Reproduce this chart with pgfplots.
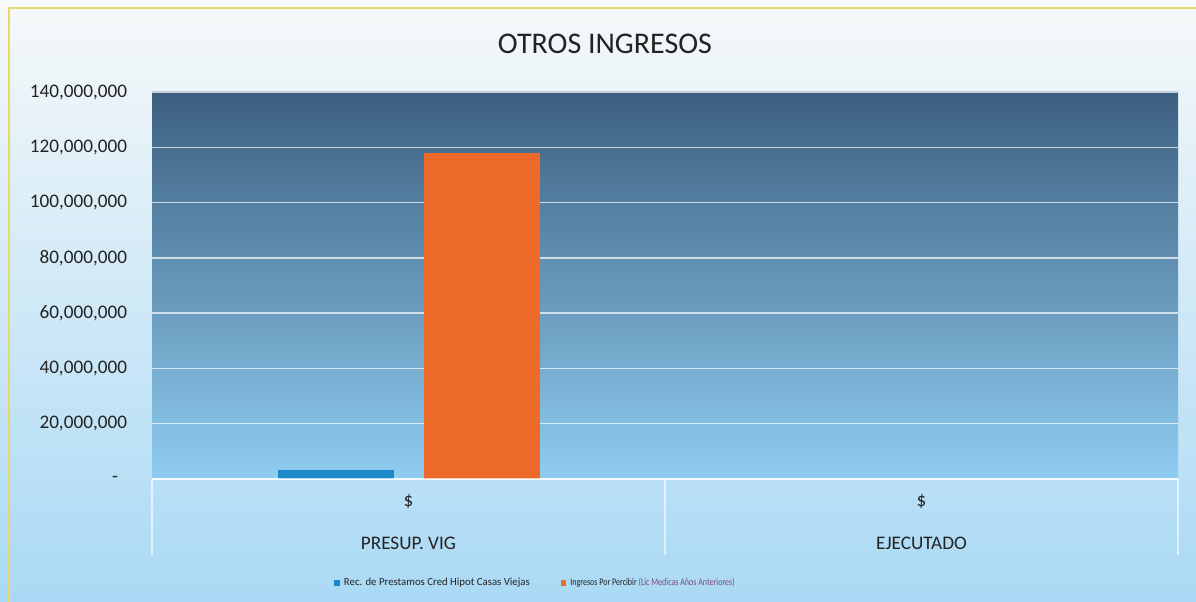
\documentclass[border=0pt]{standalone}
\usepackage{pgfplots}
\pgfplotsset{compat=1.18}
\usepackage{fontspec}
\setmainfont{Carlito}
\definecolor{bgtop}{RGB}{246,249,249}
\definecolor{bgbot}{RGB}{170,217,245}
\definecolor{patop}{RGB}{60,95,128}
\definecolor{pamid}{RGB}{96,158,204}
\definecolor{pabot}{RGB}{143,205,240}
\definecolor{recblue}{RGB}{27,137,198}
\definecolor{ingorange}{RGB}{238,106,42}
\definecolor{bordery}{RGB}{232,216,110}
\definecolor{txt}{RGB}{35,35,35}
\begin{document}
\begin{tikzpicture}
\path[use as bounding box] (0,0) rectangle (598bp,301bp);
\shade[top color=bgtop, bottom color=bgbot] (0,0) rectangle (598bp,301bp);
\draw[bordery, line width=1bp] (4.5bp,-1bp) -- (4.5bp,297bp) -- (599bp,297bp);
\begin{axis}[
  at={(76bp,61.5bp)}, anchor=south west,
  width=513bp, height=193.5bp, scale only axis,
  xmin=-0.5, xmax=1.5, ymin=0, ymax=140000000,
  ybar=15bp, bar width=58bp,
  axis background/.style={shade, top color=patop, middle color=pamid, bottom color=pabot},
  axis line style={draw=none},
  ymajorgrids, grid style={white, opacity=0.7, line width=0.7bp},
  ytick={0,20000000,40000000,60000000,80000000,100000000,120000000,140000000},
  yticklabels={{-\rule{4.5bp}{0pt}},{20,000,000},{40,000,000},{60,000,000},{80,000,000},{100,000,000},{120,000,000},{140,000,000}},
  yticklabel style={font=\fontsize{9.6bp}{11bp}\selectfont, text=txt, xshift=-9bp},
  scaled y ticks=false,
  ytick style={draw=none},
  xtick={0,1},
  xticklabels={{\$\\[10.5bp]PRESUP. VIG},{\$\\[10.5bp]EJECUTADO}},
  xticklabel style={font=\fontsize{9.6bp}{11bp}\selectfont, text=txt, align=center, yshift=0bp},
  xtick style={draw=none},
  legend style={draw=none, fill=none, legend columns=2,
     font=\fontsize{5.4bp}{6.5bp}\selectfont, text=txt,
     at={(0.3748,-0.269)}, anchor=center,
     /tikz/every even column/.append style={column sep=13.5bp}},
  legend image code/.code={\fill[#1] (0bp,-1.4bp) rectangle (2.8bp,1.4bp);},
  clip=false,
]
\addplot[fill=recblue, draw=none] coordinates {(0,3200000)};
\addlegendentry{Rec. de Prestamos Cred Hipot Casas Viejas}
\addplot[fill=ingorange, draw=none] coordinates {(0,117800000)};
\addlegendentry{\scalebox{0.8}[1]{\fontsize{5bp}{6bp}\selectfont Ingresos Por Percibir \textcolor{violet!45!gray}{(Lic Medicas Años Anteriores)}}}
\draw[white, opacity=0.7, line width=0.7bp] (axis cs:-0.5,0) -- (axis cs:1.5,0);
\draw[white, opacity=0.6, line width=0.7bp] (axis cs:-0.5,0) -- ([yshift=-38bp]axis cs:-0.5,0);
\draw[white, opacity=0.6, line width=0.7bp] (axis cs:0.5,0) -- ([yshift=-38bp]axis cs:0.5,0);
\draw[white, opacity=0.6, line width=0.7bp] (axis cs:1.5,0) -- ([yshift=-38bp]axis cs:1.5,0);
\node[font=\fontsize{15bp}{17bp}\selectfont, text=txt] at (rel axis cs:0.4415,1.124) {OTROS INGRESOS};
\end{axis}
\end{tikzpicture}
\end{document}
